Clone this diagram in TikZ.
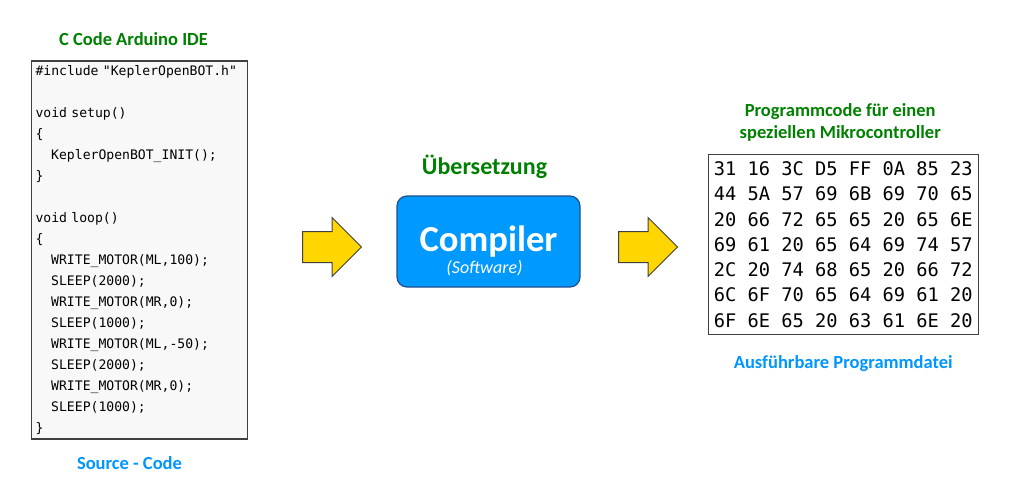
\documentclass[tikz,border=0pt]{standalone}
\usepackage{fontspec}
\setmainfont{Carlito}
\setmonofont{DejaVu Sans Mono}
\usetikzlibrary{positioning,shapes.arrows}

\definecolor{titlegreen}{RGB}{0,128,0}
\definecolor{titleblue}{RGB}{0,150,255}
\definecolor{compblue}{RGB}{0,153,255}
\definecolor{compborder}{RGB}{30,80,140}
\definecolor{arrowyellow}{RGB}{255,214,0}
\definecolor{boxgray}{RGB}{64,64,64}
\definecolor{codebg}{RGB}{248,248,248}

\tikzset{
  greentext/.style={text=titlegreen, font=\fontsize{18.5}{22}\selectfont\bfseries, inner sep=0pt},
  bluetext/.style={text=titleblue, font=\fontsize{18.5}{22}\selectfont\bfseries, inner sep=0pt},
  codebox/.style={draw=boxgray, line width=1.3pt, fill=codebg, text width=208pt, inner xsep=4pt,
    minimum height=378pt, align=left, font=\fontsize{13.1}{21}\selectfont\ttfamily},
  hexbox/.style={draw=boxgray, line width=1.3pt, fill=white, minimum width=270pt,
    minimum height=180pt, align=center, font=\fontsize{18.7}{25.3}\selectfont\ttfamily},
  compbox/.style={draw=compborder, line width=1.2pt, fill=compblue, rounded corners=10pt,
    minimum width=183pt, minimum height=91pt, text=white, font=\fontsize{36.6}{40}\selectfont\bfseries},
  fatarrow/.style={single arrow, draw=boxgray, line width=1pt, fill=arrowyellow,
    minimum height=59pt, minimum width=58pt, single arrow head extend=14pt,
    inner xsep=0pt, inner ysep=15pt}
}

\begin{document}
\begin{tikzpicture}[x=1pt, y=-1pt]
\useasboundingbox (0,0) rectangle (1010,499);

% Quelltext
\node[codebox] (src) at (139.5,250) {\#include "KeplerOpenBOT.h"\\
\mbox{}\\
void setup()\\
\{\\
\hspace*{1.2em}KeplerOpenBOT\_INIT();\\
\}\\
\mbox{}\\
void loop()\\
\{\\
\hspace*{1.2em}WRITE\_MOTOR(ML,100);\\
\hspace*{1.2em}SLEEP(2000);\\
\hspace*{1.2em}WRITE\_MOTOR(MR,0);\\
\hspace*{1.2em}SLEEP(1000);\\
\hspace*{1.2em}WRITE\_MOTOR(ML,-50);\\
\hspace*{1.2em}SLEEP(2000);\\
\hspace*{1.2em}WRITE\_MOTOR(MR,0);\\
\hspace*{1.2em}SLEEP(1000);\\
\}};
\node[greentext, anchor=base] (srctitle) at ([xshift=-6pt, yshift=15pt]src.north) {C Code Arduino IDE};
\node[bluetext, anchor=base] (srcname) at ([xshift=-10pt, yshift=-30pt]src.south) {Source - Code};

% Compiler
\node[compbox] (comp) at (488.5,241.5) {Compiler};
\node[text=white, font=\fontsize{18}{20}\selectfont\itshape, anchor=base, inner sep=0pt] (soft) at ([xshift=-4pt, yshift=-32pt]comp.center) {(Software)};
\node[greentext, font=\fontsize{24}{28}\selectfont\bfseries, anchor=base] (trans) at ([xshift=-4pt, yshift=21pt]comp.north) {Übersetzung};

% Maschinencode
\node[hexbox, right=127pt of comp, yshift=-3pt] (hex) {31 16 3C D5 FF 0A 85 23\\
44 5A 57 69 6B 69 70 65\\
20 66 72 65 65 20 65 6E\\
69 61 20 65 64 69 74 57\\
2C 20 74 68 65 20 66 72\\
6C 6F 70 65 64 69 61 20\\
6F 6E 65 20 63 61 6E 20};
\node[greentext, align=center, anchor=base] (hextitle) at ([xshift=-3pt, yshift=15pt]hex.north) {Programmcode für einen\\speziellen Mikrocontroller};
\node[bluetext, anchor=base] (hexname) at ([yshift=-33pt]hex.south) {Ausführbare Programmdatei};

% Pfeile
\node[fatarrow, anchor=tail] (arrL) at (302,247) {};
\node[fatarrow, anchor=tail] (arrR) at (618,247) {};
\end{tikzpicture}
\end{document}
